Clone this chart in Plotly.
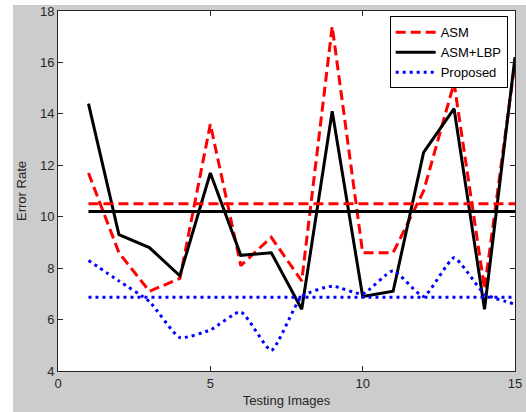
import plotly.graph_objects as go

images = list(range(1, 16))
asm = [11.7, 8.6, 7.1, 7.6, 13.6, 8.1, 9.2, 7.5, 17.4, 8.6, 8.6, 11.0, 15.2, 7.2, 16.0]
asm_lbp = [14.4, 9.3, 8.8, 7.7, 11.7, 8.5, 8.6, 6.4, 14.1, 6.9, 7.1, 12.5, 14.2, 6.4, 16.2]
proposed = [8.3, 7.5, 6.7, 5.3, 5.6, 6.3, 4.8, 6.9, 7.3, 7.0, 7.9, 6.9, 8.4, 7.0, 6.6]
asm_mean = 10.5
asm_lbp_mean = 10.2
proposed_mean = 6.87

x_ticks = [0, 5, 10, 15]
y_ticks = [4, 6, 8, 10, 12, 14, 16, 18]

RED = "#ff0000"
BLACK = "#000000"
BLUE = "#0000ff"
RED_DASH = "10px,5px"
BLUE_DOT = "3px,4px"
FONT = "Liberation Sans"

fig = go.Figure()
fig.add_trace(go.Scatter(x=images, y=asm, mode="lines", name="ASM",
                         line=dict(color=RED, width=3, dash=RED_DASH)))
fig.add_trace(go.Scatter(x=images, y=asm_lbp, mode="lines", name="ASM+LBP",
                         line=dict(color=BLACK, width=3)))
fig.add_trace(go.Scatter(x=images, y=proposed, mode="lines", name="Proposed",
                         line=dict(color=BLUE, width=3, dash=BLUE_DOT, shape="spline", smoothing=0.5)))
# mean lines
fig.add_trace(go.Scatter(x=[images[0], images[-1]], y=[asm_mean] * 2, mode="lines", showlegend=False,
                         line=dict(color=RED, width=3, dash=RED_DASH)))
fig.add_trace(go.Scatter(x=[images[0], images[-1]], y=[asm_lbp_mean] * 2, mode="lines", showlegend=False,
                         line=dict(color=BLACK, width=3)))
fig.add_trace(go.Scatter(x=[images[0], images[-1]], y=[proposed_mean] * 2, mode="lines", showlegend=False,
                         line=dict(color=BLUE, width=3, dash=BLUE_DOT)))

axis_common = dict(showline=True, linecolor="#262626", linewidth=1, mirror="ticks",
                   ticks="inside", ticklen=5, tickcolor="#262626", showgrid=False, zeroline=False,
                   automargin=False,
                   tickfont=dict(family=FONT, size=13, color="#262626"))

fig.update_xaxes(range=[0, 15], tickvals=x_ticks, title=dict(text="Testing Images", standoff=6,
                 font=dict(family=FONT, size=13, color="#262626")), **axis_common)
fig.update_yaxes(range=[4, 18], tickvals=y_ticks, title=dict(text="Error Rate", standoff=10,
                 font=dict(family=FONT, size=13, color="#262626")), **axis_common)

fig.update_layout(
    width=526, height=412,
    margin=dict(l=58, r=11, t=11, b=41),
    paper_bgcolor="#cccccc", plot_bgcolor="white",
    font=dict(family=FONT, size=13, color="#262626"),
    legend=dict(x=0.984, y=0.985, xanchor="right", yanchor="top",
                bgcolor="white", bordercolor="black", borderwidth=1,
                font=dict(family=FONT, size=13, color="#000000"),
                tracegroupgap=0, itemwidth=40),
    shapes=[
        dict(type="rect", xref="paper", yref="paper", x0=-0.2, x1=-0.0985, y0=-0.2, y1=1.2,
             fillcolor="white", line=dict(width=0), layer="below"),
        dict(type="rect", xref="paper", yref="paper", x0=-0.2, x1=1.2, y0=1.0167, y1=1.2,
             fillcolor="white", line=dict(width=0), layer="below"),
    ],
)

fig.write_html("out.html")
